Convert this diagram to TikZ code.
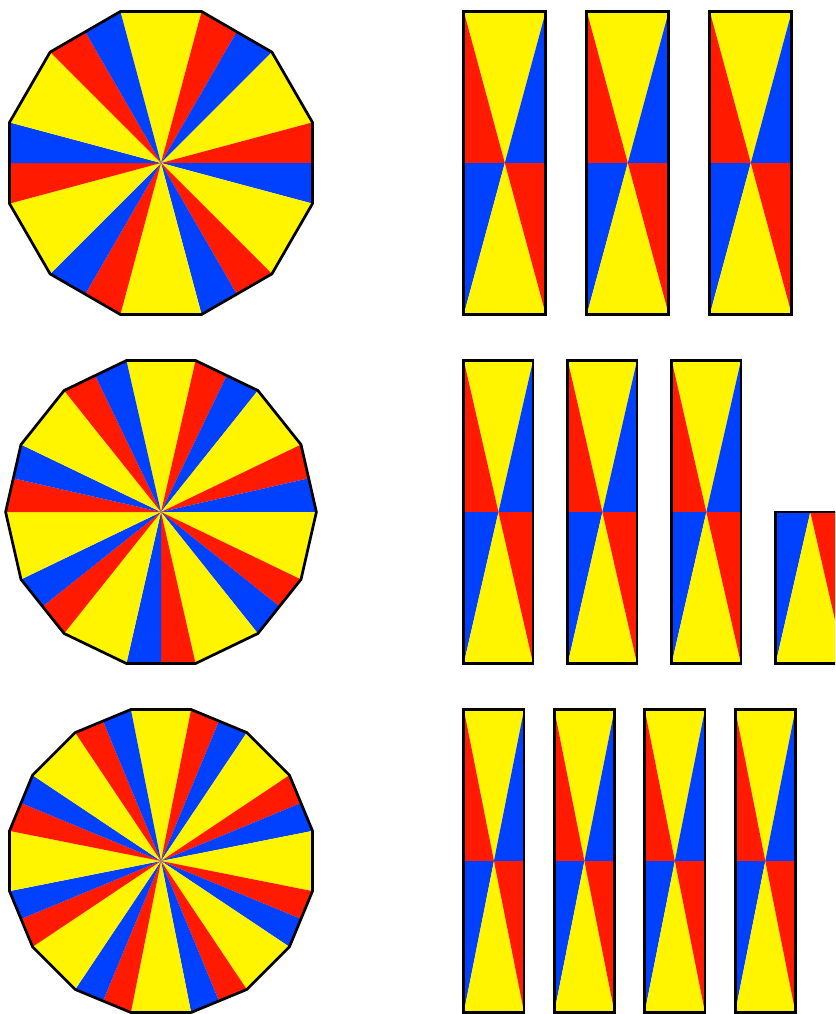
\documentclass[tikz,border=0pt]{standalone}
\definecolor{cyel}{RGB}{255,245,0}
\definecolor{cred}{RGB}{255,26,0}
\definecolor{cblu}{RGB}{0,64,255}
\tikzset{
  outline/.style={draw=black, line width=2.7pt, line join=miter},
  yel/.style={fill=cyel},
  rd/.style={fill=cred},
  bl/.style={fill=cblu}
}
\begin{document}
\begin{tikzpicture}[x=1pt,y=1pt]
\useasboundingbox (0,-1014) rectangle (835,0);
\clip (0,-1014) rectangle (835,0);
\def\apo{151.5}
\foreach \n/\yc/\nfull/\part/\w in {12/-163/3/0/82, 14/-512/3/1/69.3, 16/-861/4/0/60.3} {
  \pgfmathsetmacro\h{180/\n}
  \pgfmathsetmacro\R{\apo/cos(\h)}
  \pgfmathtruncatemacro\last{\n-1}
  \pgfmathsetmacro\yt{\yc+\apo}
  \pgfmathsetmacro\yb{\yc-\apo}
  % polygon
  \begin{scope}[shift={(161,\yc)}]
    \coordinate (C\n) at (0,0);
    \foreach \k in {0,...,\last} {
      \pgfmathsetmacro\t{90-\k*360/\n}
      \pgfmathtruncatemacro\odd{mod(\k,2)}
      \ifnum\odd=0
        \fill[yel] (C\n) -- (\t+\h:\R) -- (\t-\h:\R) -- cycle;
      \else
        \fill[rd] (C\n) -- (\t+\h:\R) -- (\t:\apo) -- cycle;
        \fill[bl] (C\n) -- (\t:\apo) -- (\t-\h:\R) -- cycle;
      \fi
    }
    \draw[outline] (90+\h:\R) foreach \j in {1,...,\last} { -- (90+\h-\j*360/\n:\R) } -- cycle;
  \end{scope}
  % rectangles
  \pgfmathtruncatemacro\nlast{\nfull-1}
  \foreach \i in {0,...,\nlast} {
    \pgfmathsetmacro\xl{463.8+1.5*\w*\i}
    \pgfmathsetmacro\xr{\xl+\w}
    \pgfmathsetmacro\xm{\xl+\w/2}
    \fill[yel] (\xl,\yt) -- (\xr,\yt) -- (\xm,\yc) -- cycle;
    \fill[rd] (\xl,\yt) -- (\xl,\yc) -- (\xm,\yc) -- cycle;
    \fill[bl] (\xr,\yt) -- (\xr,\yc) -- (\xm,\yc) -- cycle;
    \fill[bl] (\xl,\yc) -- (\xl,\yb) -- (\xm,\yc) -- cycle;
    \fill[yel] (\xl,\yb) -- (\xr,\yb) -- (\xm,\yc) -- cycle;
    \fill[rd] (\xr,\yc) -- (\xr,\yb) -- (\xm,\yc) -- cycle;
    \draw[outline] (\xl,\yt) rectangle (\xr,\yb);
  }
  \ifnum\part=1
    \pgfmathsetmacro\xl{463.8+1.5*\w*\nfull}
    \pgfmathsetmacro\xr{\xl+\w}
    \pgfmathsetmacro\xm{\xl+\w/2}
    \fill[bl] (\xl,\yc) -- (\xl,\yb) -- (\xm,\yc) -- cycle;
    \fill[yel] (\xl,\yb) -- (\xr,\yb) -- (\xm,\yc) -- cycle;
    \fill[rd] (\xr,\yc) -- (\xr,\yb) -- (\xm,\yc) -- cycle;
    \draw[outline] (\xl,\yc) rectangle (\xr,\yb);
  \fi
}
\end{tikzpicture}
\end{document}
